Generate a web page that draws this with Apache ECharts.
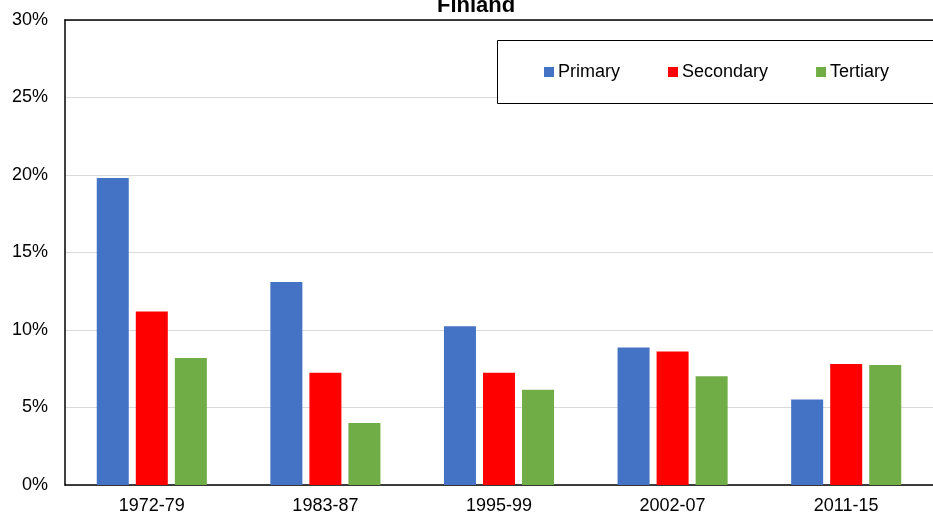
<!DOCTYPE html>
<html>
<head>
<meta charset="utf-8">
<script src="https://cdn.jsdelivr.net/npm/echarts@6/dist/echarts.min.js"></script>
<style>html,body{margin:0;padding:0;background:#fff}#c{width:933px;height:517px}</style>
</head>
<body>
<div id="c"></div>
<script>
const categories = ['1972-79', '1983-87', '1995-99', '2002-07', '2011-15'];
const primary = [19.8, 13.1, 10.25, 8.87, 5.52];
const secondary = [11.2, 7.25, 7.25, 8.61, 7.8];
const tertiary = [8.2, 4.0, 6.15, 7.02, 7.75];
const yTicks = [0, 5, 10, 15, 20, 25, 30];

const font = 'Liberation Sans, Arial, sans-serif';
const chart = echarts.init(document.getElementById('c'), null, {renderer: 'canvas'});
chart.setOption({
  animation: false,
  backgroundColor: '#fff',
  title: {
    text: 'Finland', left: 432, top: -10,
    textStyle: {fontFamily: font, fontSize: 22, fontWeight: 'bold', color: '#000'}
  },
  graphic: [{
    type: 'rect', left: 497, top: 40, z: 10,
    shape: {width: 460, height: 63},
    style: {fill: '#fff', stroke: '#000', lineWidth: 1}
  }],
  legend: {
    left: 544, top: 63, z: 20,
    padding: 0, width: 400,
    itemWidth: 10, itemHeight: 10, itemGap: 48,
    icon: 'rect',
    textStyle: {fontFamily: font, fontSize: 18, color: '#000', padding: [0, 0, 0, -1]},
    data: ['Primary', 'Secondary', 'Tertiary']
  },
  grid: {left: 65, right: 0, top: 20, bottom: 32, containLabel: false},
  xAxis: [{
    type: 'category', data: categories,
    axisLine: {lineStyle: {color: '#000', width: 1.5}},
    axisTick: {show: false},
    axisLabel: {fontFamily: font, fontSize: 18, color: '#000', margin: 12}
  }, {
    type: 'category', data: categories, position: 'top',
    axisLine: {lineStyle: {color: '#000', width: 1.5}},
    axisTick: {show: false}, axisLabel: {show: false}
  }],
  yAxis: {
    type: 'value', min: yTicks[0], max: yTicks[yTicks.length - 1], interval: 5,
    axisLine: {show: true, lineStyle: {color: '#000', width: 1.5}},
    axisTick: {show: false},
    splitLine: {lineStyle: {color: '#D9D9D9', width: 1}},
    axisLabel: {fontFamily: font, fontSize: 18, color: '#000', margin: 17, formatter: v => v + '%'}
  },
  series: [
    {name: 'Primary', type: 'bar', data: primary, barWidth: 32, barGap: '22%', itemStyle: {color: '#4472C4'}},
    {name: 'Secondary', type: 'bar', data: secondary, barWidth: 32, barGap: '22%', itemStyle: {color: '#FF0000'}},
    {name: 'Tertiary', type: 'bar', data: tertiary, barWidth: 32, barGap: '22%', itemStyle: {color: '#70AD47'}}
  ]
});
</script>
</body>
</html>
